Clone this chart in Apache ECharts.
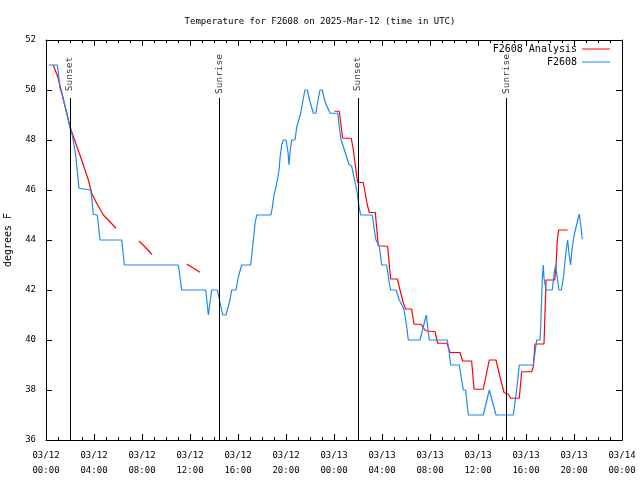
<!DOCTYPE html>
<html>
<head>
<meta charset="utf-8">
<script src="https://cdn.jsdelivr.net/npm/echarts@6/dist/echarts.min.js"></script>
<style>
html,body{margin:0;padding:0;background:#fff;}
#chart{width:640px;height:480px;}
</style>
</head>
<body>
<div id="chart"></div>
<script>
// Hours since 2025-03-12 00:00 UTC
const analysisTime = [0.6,1.0,1.5,2.0,2.5,3.0,3.53,3.81,4.22,4.78,5.19,5.83,6.8,7.75,8.3,8.81,10.3,11.72,12.3,12.83,18,
  24.03,24.44,24.72,25.44,25.61,25.97,26.44,26.78,26.94,27.44,27.69,28.47,28.72,29.28,29.5,29.78,29.97,30.47,30.67,31.25,
  31.58,31.78,32.42,32.64,33.42,33.67,34.5,34.72,35.47,35.67,36.44,36.94,37.5,37.83,38.17,38.53,38.72,39.44,39.64,40.47,
  40.61,40.75,41.5,41.64,41.67,42.39,42.5,42.61,42.72,43.47];
const analysisTemp = [51.0,50.5,49.52,48.53,47.84,47.16,46.4,45.87,45.47,45.0,44.8,44.47,null,43.96,43.7,43.43,null,43.04,42.87,42.71,null,
  49.15,49.15,48.07,48.07,47.6,46.3,46.3,45.4,45.1,45.1,43.77,43.75,42.44,42.44,42.0,41.47,41.24,41.24,40.63,40.63,
  40.4,40.36,40.33,39.87,39.87,39.5,39.5,39.16,39.16,38.03,38.03,39.2,39.2,38.53,37.9,37.83,37.67,37.67,38.73,38.73,
  38.93,39.84,39.84,41.93,42.4,42.4,42.93,44.0,44.4,44.4];

const obsTime = [0.22,0.94,1.08,1.17,1.36,1.56,1.78,2.0,2.19,2.33,2.47,2.61,2.75,2.83,3.72,3.83,3.94,4.28,4.5,6.31,6.53,
  11.03,11.31,13.31,13.53,13.81,14.28,14.72,15.0,15.33,15.47,15.83,16.03,16.31,17.06,17.28,17.42,17.56,18.75,18.86,19.0,
  19.14,19.28,19.42,19.5,19.64,19.78,20.0,20.06,20.17,20.25,20.33,20.47,20.75,20.89,21.22,21.39,21.58,21.78,22.0,22.28,
  22.5,22.64,22.83,23.03,23.25,23.67,24.31,24.44,24.58,24.78,25.0,25.25,25.47,25.75,25.94,26.03,26.17,26.22,27.19,27.36,
  27.5,27.78,27.89,27.97,28.39,28.61,28.72,29.17,29.44,29.83,30.06,30.19,31.17,31.44,31.69,31.78,31.94,33.44,33.61,33.72,
  34.44,34.64,34.78,34.97,35.19,36.44,36.94,37.5,38.94,39.22,39.44,40.61,40.89,41.17,41.22,41.36,41.44,41.5,41.67,42.19,
  42.36,42.47,42.61,42.75,42.94,43.11,43.33,43.47,43.58,43.72,43.81,43.94,44.08,44.28,44.44,44.58,44.69];
const obsTemp = [51,51,50.47,50.07,49.8,49.4,49.0,48.47,48.2,47.8,47.4,46.73,46.07,46,46,45.6,45.03,45,44,44,43,
  43,42,42,41,42,42,41,41,41.6,42,42,42.53,43,43,44,44.67,45,45,45.3,45.8,
  46.07,46.4,46.8,47.27,47.8,48,48,48,47.5,47,47.5,48,48,48.5,49.07,49.53,50,50,49.53,49.07,
  49.07,49.53,50,50,49.53,49.07,49.07,48.53,48.03,47.73,47.4,47.03,46.96,46.33,45.87,45.5,45.13,45,45,44.4,
  44,43.73,43.33,43,43,42.27,42,42,41.6,41.23,40.53,40,40,40.53,41,41,40,40,39.47,39,
  39,38.4,38,38,37,37,38,37,37,38,39,39,40,40,40.47,42.47,43,42.47,42,42,
  42.73,43,42.47,42,42,42.47,43.53,44,43.47,43,43.53,44,44.33,44.73,45.04,44.53,44.03];

const eventTime = [2.0, 14.42, 26.0, 38.35];
const eventName = ['Sunset', 'Sunrise', 'Sunset', 'Sunrise'];

const FONT = 'DejaVu Sans Mono';
const FS = 9;

function tickLabel(v) {
  const day = 12 + Math.floor(v / 24);
  const hh = v % 24;
  return '03/' + day + '\n' + String(hh).padStart(2, '0') + ':00';
}

const chart = echarts.init(document.getElementById('chart'), null, {renderer: 'canvas'});
const axisLineStyle = {lineStyle: {color: '#000', width: 1}};
const xBase = {
  type: 'value', min: 0, max: 48, interval: 4,
  axisLine: {show: true, onZero: false, ...axisLineStyle},
  axisTick: {show: true, inside: true, length: 6, lineStyle: {color: '#000'}},
  minorTick: {show: true, splitNumber: 4, length: 3, lineStyle: {color: '#000'}},
  splitLine: {show: false}
};
const yBase = {
  type: 'value', min: 36, max: 52, interval: 2,
  axisLine: {show: true, onZero: false, ...axisLineStyle},
  axisTick: {show: true, inside: true, length: 6, lineStyle: {color: '#000'}},
  splitLine: {show: false}
};
const txt = {fontFamily: FONT, fontSize: FS, color: '#000'};
const txt10 = {fontFamily: FONT, fontSize: 10, color: '#000'};

const option = {
  animation: false,
  backgroundColor: '#fff',
  title: {
    text: 'Temperature for F2608 on 2025-Mar-12 (time in UTC)',
    left: 'center', top: 12,
    textStyle: {...txt, fontWeight: 'normal'}
  },
  grid: {left: 46, right: 18, top: 40, bottom: 40, containLabel: false, outerBoundsMode: 'none'},
  legend: [
    {data: ['F2608 Analysis'], right: 30, top: 44, align: 'right', orient: 'vertical', padding: 0,
     icon: 'rect', itemWidth: 28, itemHeight: 1, itemGap: 0, textStyle: txt10},
    {data: ['F2608'], right: 30, top: 57, align: 'right', orient: 'vertical', padding: 0,
     icon: 'rect', itemWidth: 28, itemHeight: 1, itemGap: 0, textStyle: txt10}
  ],
  xAxis: [
    {...xBase, position: 'bottom',
     axisLabel: {...txt, formatter: tickLabel, margin: 8, lineHeight: 15}},
    {...xBase, position: 'top', axisLabel: {show: false}}
  ],
  yAxis: [
    {...yBase, position: 'left', name: 'degrees F', nameLocation: 'middle', nameGap: 33, nameRotate: 90,
     nameTextStyle: txt10,
     axisLabel: {...txt, margin: 10}},
    {...yBase, position: 'right', axisLabel: {show: false}}
  ],
  series: [
    {
      name: 'F2608 Analysis', type: 'line', xAxisIndex: 0, yAxisIndex: 0,
      data: analysisTime.map((t, i) => [t, analysisTemp[i]]),
      showSymbol: false, symbol: 'none', connectNulls: false,
      lineStyle: {color: '#ff0000', width: 1.2}, itemStyle: {color: '#ff0000'}
    },
    {
      name: 'F2608', type: 'line', xAxisIndex: 0, yAxisIndex: 0,
      data: obsTime.map((t, i) => [t, obsTemp[i]]),
      showSymbol: false, symbol: 'none',
      lineStyle: {color: '#1e88f5', width: 1.2}, itemStyle: {color: '#1e88f5'},
      markLine: {
        silent: true, symbol: ['none', 'none'],
        lineStyle: {color: '#000', width: 1, type: 'solid'},
        label: {show: false},
        data: eventTime.map(t => [{coord: [t, 36]}, {coord: [t, 49.68]}])
      }
    },
    {
      name: 'events', type: 'scatter', xAxisIndex: 0, yAxisIndex: 0,
      symbolSize: 1, itemStyle: {color: 'rgba(0,0,0,0)'}, silent: true,
      data: eventTime.map((t, i) => ({value: [t, 50.64], name: eventName[i]})),
      label: {...txt, fontSize: 9.5, show: true, formatter: '{b}', rotate: 90, position: 'inside'}
    }
  ]
};
chart.setOption(option);
</script>
</body>
</html>
